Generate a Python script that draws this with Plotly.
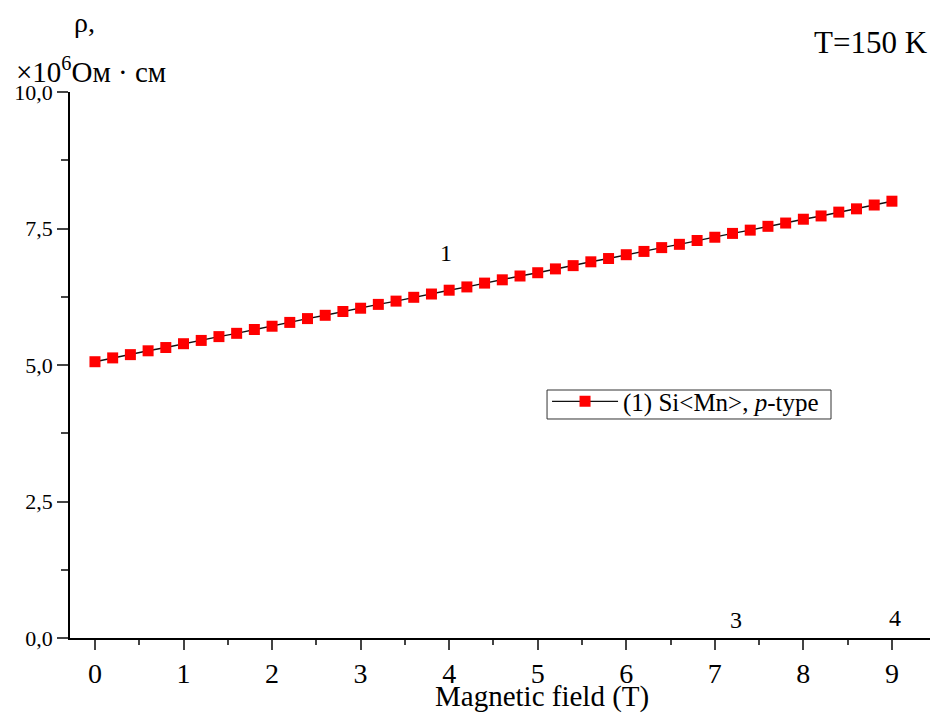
import plotly.graph_objects as go

field_T = [0.0, 0.2, 0.4, 0.6, 0.8, 1.0, 1.2, 1.4, 1.6, 1.8,
           2.0, 2.2, 2.4, 2.6, 2.8, 3.0, 3.2, 3.4, 3.6, 3.8,
           4.0, 4.2, 4.4, 4.6, 4.8, 5.0, 5.2, 5.4, 5.6, 5.8,
           6.0, 6.2, 6.4, 6.6, 6.8, 7.0, 7.2, 7.4, 7.6, 7.8,
           8.0, 8.2, 8.4, 8.6, 8.8, 9.0]
rho = [5.06, 5.13, 5.19, 5.26, 5.32, 5.39, 5.45, 5.52, 5.58, 5.65,
       5.71, 5.78, 5.85, 5.91, 5.98, 6.04, 6.11, 6.17, 6.24, 6.30,
       6.37, 6.43, 6.50, 6.56, 6.63, 6.69, 6.76, 6.82, 6.89, 6.95,
       7.02, 7.08, 7.15, 7.21, 7.28, 7.34, 7.41, 7.47, 7.54, 7.60,
       7.67, 7.73, 7.80, 7.86, 7.93, 8.00]

x_ticks = [0, 1, 2, 3, 4, 5, 6, 7, 8, 9]
y_ticks = [0, 2.5, 5.0, 7.5, 10.0]
y_tick_labels = ["0,0", "2,5", "5,0", "7,5", "10,0"]

curve_labels = ["1", "3", "4"]
curve_label_x = [3.96, 7.24, 9.03]
curve_label_y = [7.05, 0.33, 0.37]

FONT = "Liberation Serif"

fig = go.Figure()
fig.add_trace(go.Scatter(
    x=field_T, y=rho, mode="lines+markers",
    name="(1) Si&lt;Mn&gt;, <i>p</i>-type",
    line=dict(color="#111111", width=1.4),
    marker=dict(symbol="square", size=11, color="#ff0000"),
))

for t, xx, yy in zip(curve_labels, curve_label_x, curve_label_y):
    fig.add_annotation(x=xx, y=yy, text=t, showarrow=False,
                       font=dict(family=FONT, size=24, color="black"))

fig.add_annotation(xref="paper", yref="paper", x=0.017, y=1.0, yshift=70,
                   yanchor="middle", text="ρ,", showarrow=False, xanchor="center",
                   font=dict(family=FONT, size=28, color="black"))
fig.add_annotation(xref="paper", yref="paper", x=-0.065, y=1.0, yshift=22,
                   yanchor="middle", text="×10<sup>6</sup>Ом · см", showarrow=False,
                   xanchor="left",
                   font=dict(family=FONT, size=29, color="black"))
fig.add_annotation(xref="paper", yref="paper", x=1.0, y=1.0, yshift=50,
                   yanchor="middle", text="T=150 K", showarrow=False, xanchor="right",
                   font=dict(family=FONT, size=31, color="black"))
fig.add_annotation(xref="paper", yref="paper", x=0.549, y=-0.107,
                   yanchor="middle", text="Magnetic field (T)", showarrow=False,
                   xanchor="center",
                   font=dict(family=FONT, size=29, color="black"))

# legend frame
fig.add_shape(type="rect", xref="paper", yref="paper",
              x0=0.5547, x1=0.8849, y0=0.4011, y1=0.4542,
              line=dict(color="#333333", width=1), fillcolor="white", layer="below")

fig.update_layout(
    width=930, height=713,
    margin=dict(l=70, r=0, t=92, b=75),
    paper_bgcolor="white", plot_bgcolor="white",
    font=dict(family=FONT, size=22, color="black"),
    showlegend=True,
    legend=dict(x=0.5547, y=0.433, xanchor="left", yanchor="middle",
                borderwidth=0, bgcolor="rgba(0,0,0,0)",
                itemwidth=66,
                font=dict(family=FONT, size=25, color="black")),
    xaxis=dict(range=[-0.282, 9.43], tickvals=x_ticks, showline=True,
               linecolor="black", linewidth=1.6, ticks="outside", ticklen=10,
               tickwidth=1.6, showgrid=False, zeroline=False,
               tickfont=dict(size=28),
               minor=dict(dtick=0.5, tick0=0, ticks="outside", ticklen=5, tickwidth=1.6)),
    yaxis=dict(range=[0, 10], tickvals=y_ticks, ticktext=y_tick_labels,
               showline=True, linecolor="black", linewidth=1.6, ticks="outside",
               ticklen=11, tickwidth=1.6, showgrid=False, zeroline=False,
               tickfont=dict(size=22),
               minor=dict(dtick=1.25, tick0=0, ticks="outside", ticklen=7, tickwidth=1.6)),
)

fig.write_html("out.html")
